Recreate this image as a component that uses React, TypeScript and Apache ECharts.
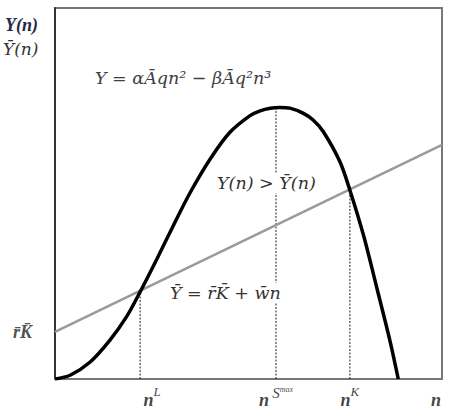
import React, { useEffect, useRef } from "react";
import * as echarts from "echarts";

// Output curve Y(n) (n on 0..100, Y on 0..100)
const curveN = [0, 3.9, 9.0, 14.2, 18.5, 22.0, 26.3, 30.6, 34.9, 40.1, 45.2, 50.4, 53.0, 55.6, 58.1, 60.7, 64.2, 66.7, 69.3, 73.6, 76.2, 79.7, 83.2, 86.6, 88.7];
const curveY = [0, 1.0, 4.5, 10.5, 16.8, 23.5, 32.3, 41.4, 50.2, 59.3, 66.5, 71.0, 72.3, 73.0, 73.2, 73.0, 71.6, 69.8, 66.7, 58.6, 50.9, 38.8, 24.4, 10.1, 0];

// Cost line Ybar = rK + w n
const lineN = [0, 100];
const lineY = [12.7, 63.1];

// Special points
const nL = 22.0;
const yL = 23.8;
const nS = 57.1;
const yS = 73.1;
const nK = 76.2;
const yK = 51.1;
const rK = 12.7;
const nEnd = 100;

const SERIF = "Liberation Serif";
const MATH = "DejaVu Serif";

export default function App() {
  const ref = useRef<HTMLDivElement>(null);
  useEffect(() => {
    document.body.style.margin = "0";
    const chart = echarts.init(ref.current!, null, { renderer: "svg" });
    const dotted = { color: "#222", width: 1, type: [2, 1.5] as any };
    const xLabelRich = {
      b: { fontFamily: SERIF, fontStyle: "italic", fontWeight: "bold", fontSize: 18, color: "#111", lineHeight: 24, verticalAlign: "bottom" },
      s: { fontFamily: SERIF, fontStyle: "italic", fontSize: 13, color: "#111", lineHeight: 14, verticalAlign: "top" },
      big: { fontFamily: SERIF, fontStyle: "italic", fontSize: 15, color: "#111", lineHeight: 16, verticalAlign: "top" },
      m: { fontFamily: SERIF, fontStyle: "italic", fontSize: 8, color: "#111", lineHeight: 9, verticalAlign: "top" },
    };
    chart.setOption({
      animation: false,
      grid: { left: 55, right: 10, top: 8, bottom: 33, show: true, borderColor: "#777", borderWidth: 2 },
      xAxis: {
        type: "value", min: 0, max: 100,
        axisLine: { show: true, onZero: false, lineStyle: { color: "#777", width: 2 } },
        axisTick: { show: false }, axisLabel: { show: false }, splitLine: { show: false },
      },
      yAxis: {
        type: "value", min: 0, max: 100,
        axisLine: { show: true, onZero: false, lineStyle: { color: "#333", width: 2 } },
        axisTick: { show: false }, axisLabel: { show: false }, splitLine: { show: false },
      },
      series: [
        {
          type: "line", data: lineN.map((n, i) => [n, lineY[i]]), symbol: "none",
          lineStyle: { color: "#9a9a9a", width: 2.5 }, z: 2,
        },
        {
          type: "line", data: curveN.map((n, i) => [n, curveY[i]]), symbol: "none", smooth: 0.3,
          lineStyle: { color: "#000", width: 3.5 }, z: 3,
        },
        { type: "line", data: [[nL, 0], [nL, yL]], symbol: "none", lineStyle: dotted, z: 1 },
        { type: "line", data: [[nS, 0], [nS, yS]], symbol: "none", lineStyle: dotted, z: 1 },
        { type: "line", data: [[nK, 0], [nK, yK]], symbol: "none", lineStyle: dotted, z: 1 },
        {
          type: "scatter", symbolSize: 0, z: 5, silent: true,
          label: { show: true, position: "bottom", distance: 6, rich: xLabelRich },
          data: [
            { value: [nL, 0], label: { formatter: "{b|n}{s|L}", offset: [12, 0] } },
            { value: [nS, 0], label: { formatter: "{b|n} {big|S}{m|max}", offset: [0, 0] } },
            { value: [nK, 0], label: { formatter: "{b|n}{s|K}", offset: [0, 0] } },
            { value: [nEnd, 0], label: { formatter: "{b|n}", offset: [-6, 0] } },
          ],
        },
        {
          type: "scatter", symbolSize: 0, z: 5, silent: true,
          label: {
            show: true, position: "left", distance: 23, formatter: "r\u0304K\u0304",
            fontFamily: SERIF, fontStyle: "italic", fontWeight: "bold", fontSize: 18, color: "#222",
          },
          data: [[0, rK]],
        },
      ],
      graphic: [
        {
          type: "text", left: 5, top: 16, z: 100,
          style: { text: "Y(n)", fontFamily: SERIF, fontStyle: "italic", fontWeight: "bold", fontSize: 18, fill: "#1f2a44" },
        },
        {
          type: "text", left: 3, top: 40, z: 100,
          style: { text: "\u0232(n)", fontFamily: MATH, fontStyle: "italic", fontSize: 17, fill: "#333" },
        },
        {
          type: "text", left: 95, top: 69, z: 100,
          style: { text: "Y = \u03b1\u0100qn\u00b2 \u2212 \u03b2\u0100q\u00b2n\u00b3", fontFamily: MATH, fontStyle: "italic", fontSize: 17.5, fill: "#404040" },
        },
        {
          type: "text", left: 215, top: 173, z: 100,
          style: { text: "Y(n) > \u0232(n)", fontFamily: MATH, fontStyle: "italic", fontSize: 17.5, fill: "#333", backgroundColor: "#fff", padding: [1, 2] },
        },
        {
          type: "text", left: 168, top: 283, z: 100,
          style: { text: "\u0232 = r\u0304K\u0304 + w\u0304n", fontFamily: MATH, fontStyle: "italic", fontSize: 17.5, fill: "#333", backgroundColor: "#fff", padding: [1, 2] },
        },
      ],
    });
    return () => chart.dispose();
  }, []);
  return <div ref={ref} style={{ position: "absolute", left: 0, top: 0, width: 452, height: 412 }} />;
}
